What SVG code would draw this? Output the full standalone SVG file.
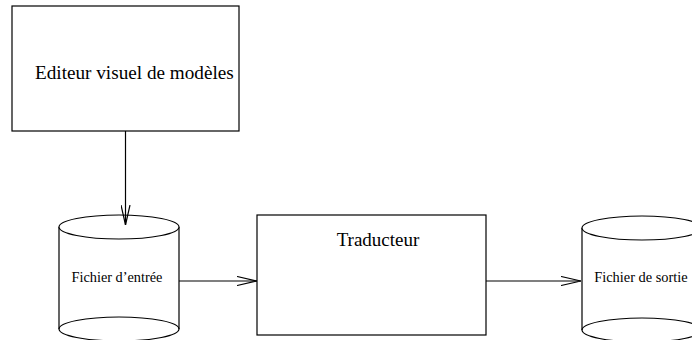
<svg xmlns="http://www.w3.org/2000/svg" width="692" height="340" viewBox="0 0 692 340">
<style>
.s{fill:none;stroke:#000;stroke-width:1.2}
.b{fill:#fff;stroke:#000;stroke-width:1.2}
.t{font-family:"Liberation Serif","Times New Roman",serif;fill:#000}
</style>
<defs>
<marker id="ah" viewBox="0 0 20 10" refX="20" refY="5" markerWidth="20" markerHeight="10" markerUnits="userSpaceOnUse" orient="auto">
<path d="M0,0.5 L20,5 L0,9.5" fill="none" stroke="#000" stroke-width="1.2"/>
</marker>
</defs>
<rect width="692" height="340" fill="#fff"/>
<g id="editeur">
<rect class="b" x="12" y="6" width="227" height="125"/>
<text class="t" x="35" y="79" font-size="19.2">Editeur visuel de modèles</text>
</g>
<g id="fichier-entree">
<path class="b" d="M59,227 L59,329 A60,12 0 0 0 179,329 L179,227"/>
<ellipse class="b" cx="119" cy="227" rx="60" ry="12"/>
<path class="s" d="M59,329 A60,12 0 0 1 179,329"/>
<text class="t" x="117" y="282" font-size="14.3" text-anchor="middle">Fichier d’entrée</text>
</g>
<g id="traducteur">
<rect class="b" x="257" y="215" width="229" height="120"/>
<text class="t" x="378" y="246" font-size="19" text-anchor="middle">Traducteur</text>
</g>
<g id="fichier-sortie">
<path class="b" d="M582,228 L582,330 A60,12 0 0 0 702,330 L702,228"/>
<ellipse class="b" cx="642" cy="228" rx="60" ry="12"/>
<path class="s" d="M582,330 A60,12 0 0 1 702,330"/>
<text class="t" x="641" y="282" font-size="14.4" text-anchor="middle">Fichier de sortie</text>
</g>
<g id="connectors">
<line class="s" x1="125.5" y1="131" x2="125.5" y2="225" marker-end="url(#ah)"/>
<line class="s" x1="179" y1="281" x2="257" y2="281" marker-end="url(#ah)"/>
<line class="s" x1="486" y1="281" x2="581" y2="281" marker-end="url(#ah)"/>
</g>
</svg>
